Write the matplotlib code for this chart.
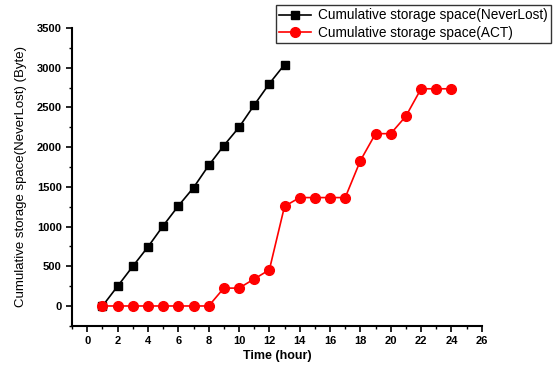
import matplotlib
matplotlib.use('Agg')
import matplotlib.pyplot as plt
from matplotlib.ticker import MultipleLocator

plt.rcParams['font.family'] = ['Liberation Sans', 'DejaVu Sans']

hours_nl = [1, 2, 3, 4, 5, 6, 7, 8, 9, 10, 11, 12, 13]
space_nl = [0, 250, 500, 745, 1010, 1260, 1490, 1770, 2020, 2250, 2530, 2800, 3040]

hours_act = list(range(1, 25))
space_act = [0, 0, 0, 0, 0, 0, 0, 0, 225, 225, 340, 455, 1255, 1365, 1365, 1365,
             1365, 1830, 2170, 2170, 2390, 2735, 2735, 2735]

fig = plt.figure(figsize=(5.55, 3.69), dpi=100)
ax = fig.add_axes([0.13, 0.117, 0.738, 0.807])

ax.plot(hours_nl, space_nl, color='black', marker='s', markersize=6, linewidth=1.2,
        label='Cumulative storage space(NeverLost)')
ax.plot(hours_act, space_act, color='red', marker='o', markersize=7, linewidth=1.2,
        label='Cumulative storage space(ACT)')

ax.set_xlim(-1, 26)
ax.set_ylim(-250, 3500)
ax.xaxis.set_major_locator(MultipleLocator(2))
ax.xaxis.set_minor_locator(MultipleLocator(1))
ax.yaxis.set_major_locator(MultipleLocator(500))
ax.yaxis.set_minor_locator(MultipleLocator(250))
ax.set_xticks(range(0, 27, 2))

for s in ['top', 'right']:
    ax.spines[s].set_visible(False)
for s in ['left', 'bottom']:
    ax.spines[s].set_linewidth(1.5)
ax.tick_params(which='major', direction='out', length=4, width=1.2, labelsize=8)
ax.tick_params(which='minor', direction='out', length=2.5, width=1.0)
for lab in ax.get_xticklabels() + ax.get_yticklabels():
    lab.set_fontweight('bold')

ax.set_xlabel('Time (hour)', fontsize=9, fontweight='bold', labelpad=3)
ax.set_ylabel('Cumulative storage space(NeverLost) (Byte)', fontsize=9.5, labelpad=7)

leg = ax.legend(loc='upper left', bbox_to_anchor=(276 / 555, 1 - 5 / 369),
                bbox_transform=fig.transFigure, fontsize=9.8,
                frameon=True, fancybox=False, edgecolor='black', borderpad=0.25,
                labelspacing=0.25, handlelength=2.3, handletextpad=0.5, borderaxespad=0)
leg.get_frame().set_linewidth(1.0)

fig.savefig('out.png', dpi=100)
